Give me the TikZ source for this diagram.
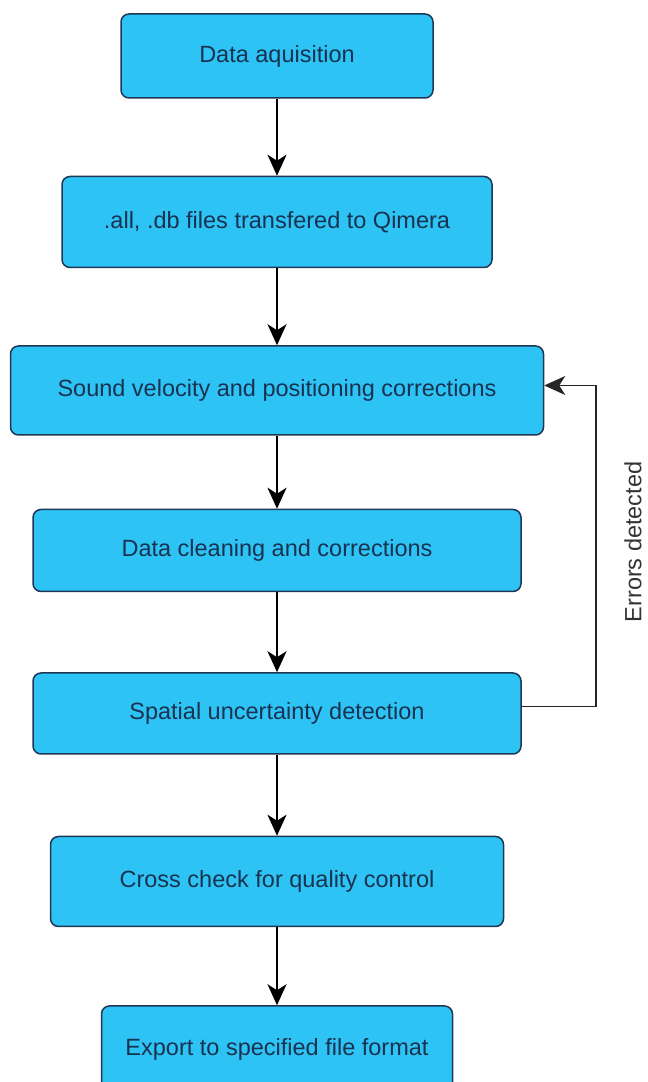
\documentclass[tikz,border=0pt]{standalone}
\usepackage{fontspec}
\setmainfont{Liberation Sans}
\usepackage{xcolor}
\definecolor{boxfill}{RGB}{45,195,245}
\definecolor{boxline}{RGB}{30,55,85}
\definecolor{boxtext}{RGB}{25,50,80}
\usepackage{tikz}
\usetikzlibrary{arrows.meta,positioning}
\tikzset{
  stage/.style={draw=boxline,fill=boxfill,rounded corners=8pt,line width=1.5pt,%
    text=boxtext,font=\fontsize{23.5}{28}\selectfont,inner sep=0pt,align=center},
  flow/.style={-{Stealth[length=21pt,width=19pt,inset=6pt]},line width=2pt,draw=black},
  loopback/.style={-{Stealth[length=21pt,width=19pt,inset=6pt]},line width=1.5pt,draw=black!85},
}

\begin{document}
\begin{tikzpicture}[x=1pt,y=1pt,node distance=77pt]
\useasboundingbox (0,0) rectangle (648,1082);
\node[stage,minimum width=312pt,minimum height=84pt] (acq) at (277,1026) {Data aquisition};
\node[stage,minimum width=430pt,minimum height=91pt,below=of acq] (xfer) {.all, .db files transfered to Qimera};
\node[stage,minimum width=533pt,minimum height=89pt,below=of xfer] (svp) {Sound velocity and positioning corrections};
\node[stage,minimum width=488pt,minimum height=82pt,below=73pt of svp] (clean) {Data cleaning and corrections};
\node[stage,minimum width=488pt,minimum height=81pt,below=80pt of clean] (tpu) {Spatial uncertainty detection};
\node[stage,minimum width=453pt,minimum height=90pt,below=81pt of tpu] (xcheck) {Cross check for quality control};
\node[stage,minimum width=351pt,minimum height=86pt,below=78pt of xcheck] (export) {Export to specified file format};
\node[rotate=90,text=black!80,font=\fontsize{23.5}{28}\selectfont] (err) at (633,540) {Errors detected};
\draw[flow] (acq) -- (xfer);
\draw[flow] (xfer) -- (svp);
\draw[flow] (svp) -- (clean);
\draw[flow] (clean) -- (tpu);
\draw[flow] (tpu) -- (xcheck);
\draw[flow] (xcheck) -- (export);
\draw[loopback] ([yshift=7pt]tpu.east) -- ++(74,0) |- ([yshift=5pt]svp.east);
\end{tikzpicture}
\end{document}
